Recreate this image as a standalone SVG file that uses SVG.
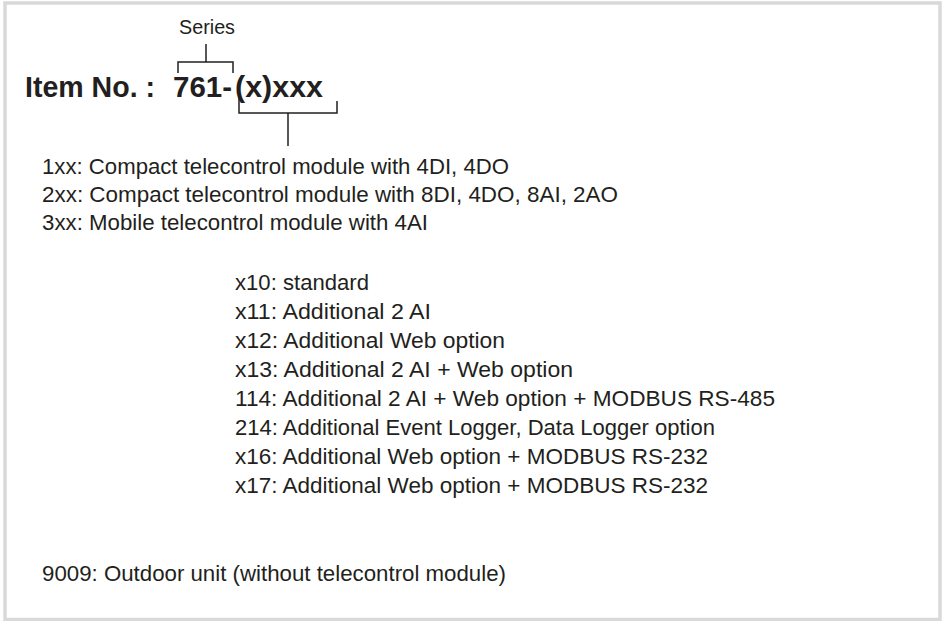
<svg xmlns="http://www.w3.org/2000/svg" width="942" height="621" viewBox="0 0 942 621">
<style>
.t{font-family:"Liberation Sans",Arial,sans-serif;font-size:22px;fill:#231f20}
.b{font-family:"Liberation Sans",Arial,sans-serif;font-size:29px;font-weight:bold;fill:#231f20}
.s{font-family:"Liberation Sans",Arial,sans-serif;font-size:20px;fill:#231f20}
.ln{fill:none;stroke:#231f20;stroke-width:1.5}
</style>
<rect x="0" y="0" width="942" height="621" fill="#ffffff"/>
<rect x="5" y="3" width="935" height="616.5" fill="none" stroke="#d9d9d9" stroke-width="3.5"/>
<g id="title">
<text class="b" x="25" y="97" textLength="130" lengthAdjust="spacingAndGlyphs">Item No. :</text>
<text class="b" x="173" y="97" textLength="59" lengthAdjust="spacingAndGlyphs">761-</text>
<text class="b" x="235" y="97" textLength="88" lengthAdjust="spacingAndGlyphs">(x)xxx</text>
</g>
<g id="series">
<text class="s" x="179" y="34" textLength="56" lengthAdjust="spacingAndGlyphs">Series</text>
</g>
<g id="connectors">
<path class="ln" d="M206 44 V62 M178 73 V62 H233 V73"/>
<path class="ln" d="M239 96 V113 H337 V101 M288 113 V146"/>
</g>
<g id="types">
<text class="t" x="42" y="174" textLength="467" lengthAdjust="spacingAndGlyphs">1xx: Compact telecontrol module with 4DI, 4DO</text>
<text class="t" x="42" y="202" textLength="576" lengthAdjust="spacingAndGlyphs">2xx: Compact telecontrol module with 8DI, 4DO, 8AI, 2AO</text>
<text class="t" x="42" y="230" textLength="386" lengthAdjust="spacingAndGlyphs">3xx: Mobile telecontrol module with 4AI</text>
</g>
<g id="options">
<text class="t" x="235" y="290" textLength="134" lengthAdjust="spacingAndGlyphs">x10: standard</text>
<text class="t" x="235" y="319" textLength="196" lengthAdjust="spacingAndGlyphs">x11: Additional 2 AI</text>
<text class="t" x="235" y="348" textLength="270" lengthAdjust="spacingAndGlyphs">x12: Additional Web option</text>
<text class="t" x="235" y="377" textLength="338" lengthAdjust="spacingAndGlyphs">x13: Additional 2 AI + Web option</text>
<text class="t" x="235" y="406" textLength="540" lengthAdjust="spacingAndGlyphs">114: Additional 2 AI + Web option + MODBUS RS-485</text>
<text class="t" x="235" y="435" textLength="480" lengthAdjust="spacingAndGlyphs">214: Additional Event Logger, Data Logger option</text>
<text class="t" x="235" y="464" textLength="473" lengthAdjust="spacingAndGlyphs">x16: Additional Web option + MODBUS RS-232</text>
<text class="t" x="235" y="493" textLength="473" lengthAdjust="spacingAndGlyphs">x17: Additional Web option + MODBUS RS-232</text>
</g>
<g id="outdoor">
<text class="t" x="42" y="581" textLength="464" lengthAdjust="spacingAndGlyphs">9009: Outdoor unit (without telecontrol module)</text>
</g>
</svg>
